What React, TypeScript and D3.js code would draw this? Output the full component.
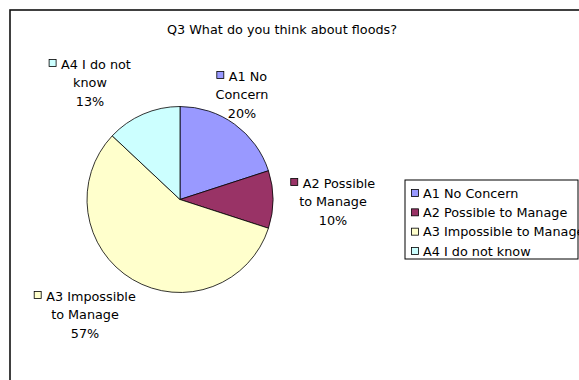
import React, { useEffect, useRef } from "react";
import * as d3 from "d3";

const categories = ["A1 No Concern", "A2 Possible to Manage", "A3 Impossible to Manage", "A4 I do not know"];
const values = [20, 10, 57, 13];
const pctLabels = ["20%", "10%", "57%", "13%"];
const labelLines = [
  ["A1 No", "Concern"],
  ["A2 Possible", "to Manage"],
  ["A3 Impossible", "to Manage"],
  ["A4 I do not", "know"],
];
const colors = ["#9999FF", "#993366", "#FFFFCC", "#CCFFFF"];
const title = "Q3 What do you think about floods?";

const W = 579;
const H = 380;
const FONT = "DejaVu Sans";
const FS = 12.8;

export default function App() {
  const ref = useRef<SVGSVGElement>(null);
  useEffect(() => {
    const svg = d3.select(ref.current);
    svg.selectAll("*").remove();

    svg.append("rect").attr("x", 0).attr("y", 0).attr("width", W).attr("height", H).attr("fill", "#fff");
    svg.append("rect").attr("x", 10).attr("y", 10).attr("width", W + 20).attr("height", H + 20)
      .attr("fill", "#fff").attr("stroke", "#111").attr("stroke-width", 1.6);

    svg.append("text").attr("x", 282).attr("y", 34).attr("text-anchor", "middle")
      .attr("font-family", FONT).attr("font-size", FS).attr("fill", "#000").text(title);

    const cx = 180, cy = 199.5, r = 93;
    const pie = d3.pie<number>().sort(null).value((d) => d)(values);
    const arc = d3.arc<d3.PieArcDatum<number>>().innerRadius(0).outerRadius(r);
    const g = svg.append("g").attr("transform", `translate(${cx},${cy})`);
    g.selectAll("path").data(pie).enter().append("path")
      .attr("d", arc as any).attr("fill", (_, i) => colors[i])
      .attr("stroke", "#000").attr("stroke-width", 0.8);

    // label centers (first line) relative to pie center (layout)
    const labelOffsets = [
      [62, -123.5],
      [153, -16.5],
      [-95, 96.5],
      [-90, -135.5],
    ];
    const lh = 18.8;
    const sq = 8, gap = 4;
    pie.forEach((p, i) => {
      const [dx, dy] = labelOffsets[i];
      const lx = cx + dx, ly = cy + dy + 4.5;
      const lines = [...labelLines[i], pctLabels[i]];
      const lg = svg.append("g");
      lines.forEach((ln, j) => {
        const t = lg.append("text").attr("x", lx).attr("y", ly + j * lh)
          .attr("text-anchor", j === 0 ? "start" : "middle").attr("font-family", FONT).attr("font-size", FS)
          .attr("fill", "#000").text(ln);
        if (j === 0) {
          const w = (t.node() as SVGTextElement).getComputedTextLength();
          const total = sq + gap + w;
          const x0 = lx - total / 2;
          t.attr("x", x0 + sq + gap);
          lg.append("rect").attr("x", x0).attr("y", ly - 9)
            .attr("width", sq - 1).attr("height", sq - 1).attr("fill", colors[i])
            .attr("stroke", "#000").attr("stroke-width", 0.8);
        }
      });
    });

    // legend
    const lgx = 405, lgy = 180;
    svg.append("rect").attr("x", lgx).attr("y", lgy).attr("width", 173).attr("height", 79)
      .attr("fill", "#fff").attr("stroke", "#000").attr("stroke-width", 1);
    const rowY = d3.scalePoint<string>().domain(categories).range([lgy + 13, lgy + 71]);
    categories.forEach((c, i) => {
      const y = rowY(c)!;
      svg.append("rect").attr("x", lgx + 6.5).attr("y", y - 3.5).attr("width", 7).attr("height", 7)
        .attr("fill", colors[i]).attr("stroke", "#000").attr("stroke-width", 0.8);
      svg.append("text").attr("x", lgx + 18).attr("y", y + 4.5).attr("font-family", FONT)
        .attr("font-size", FS).attr("fill", "#000").text(c);
    });
  }, []);
  return (
    <svg ref={ref} width={W} height={H} style={{ position: "absolute", left: 0, top: 0 }} />
  );
}
